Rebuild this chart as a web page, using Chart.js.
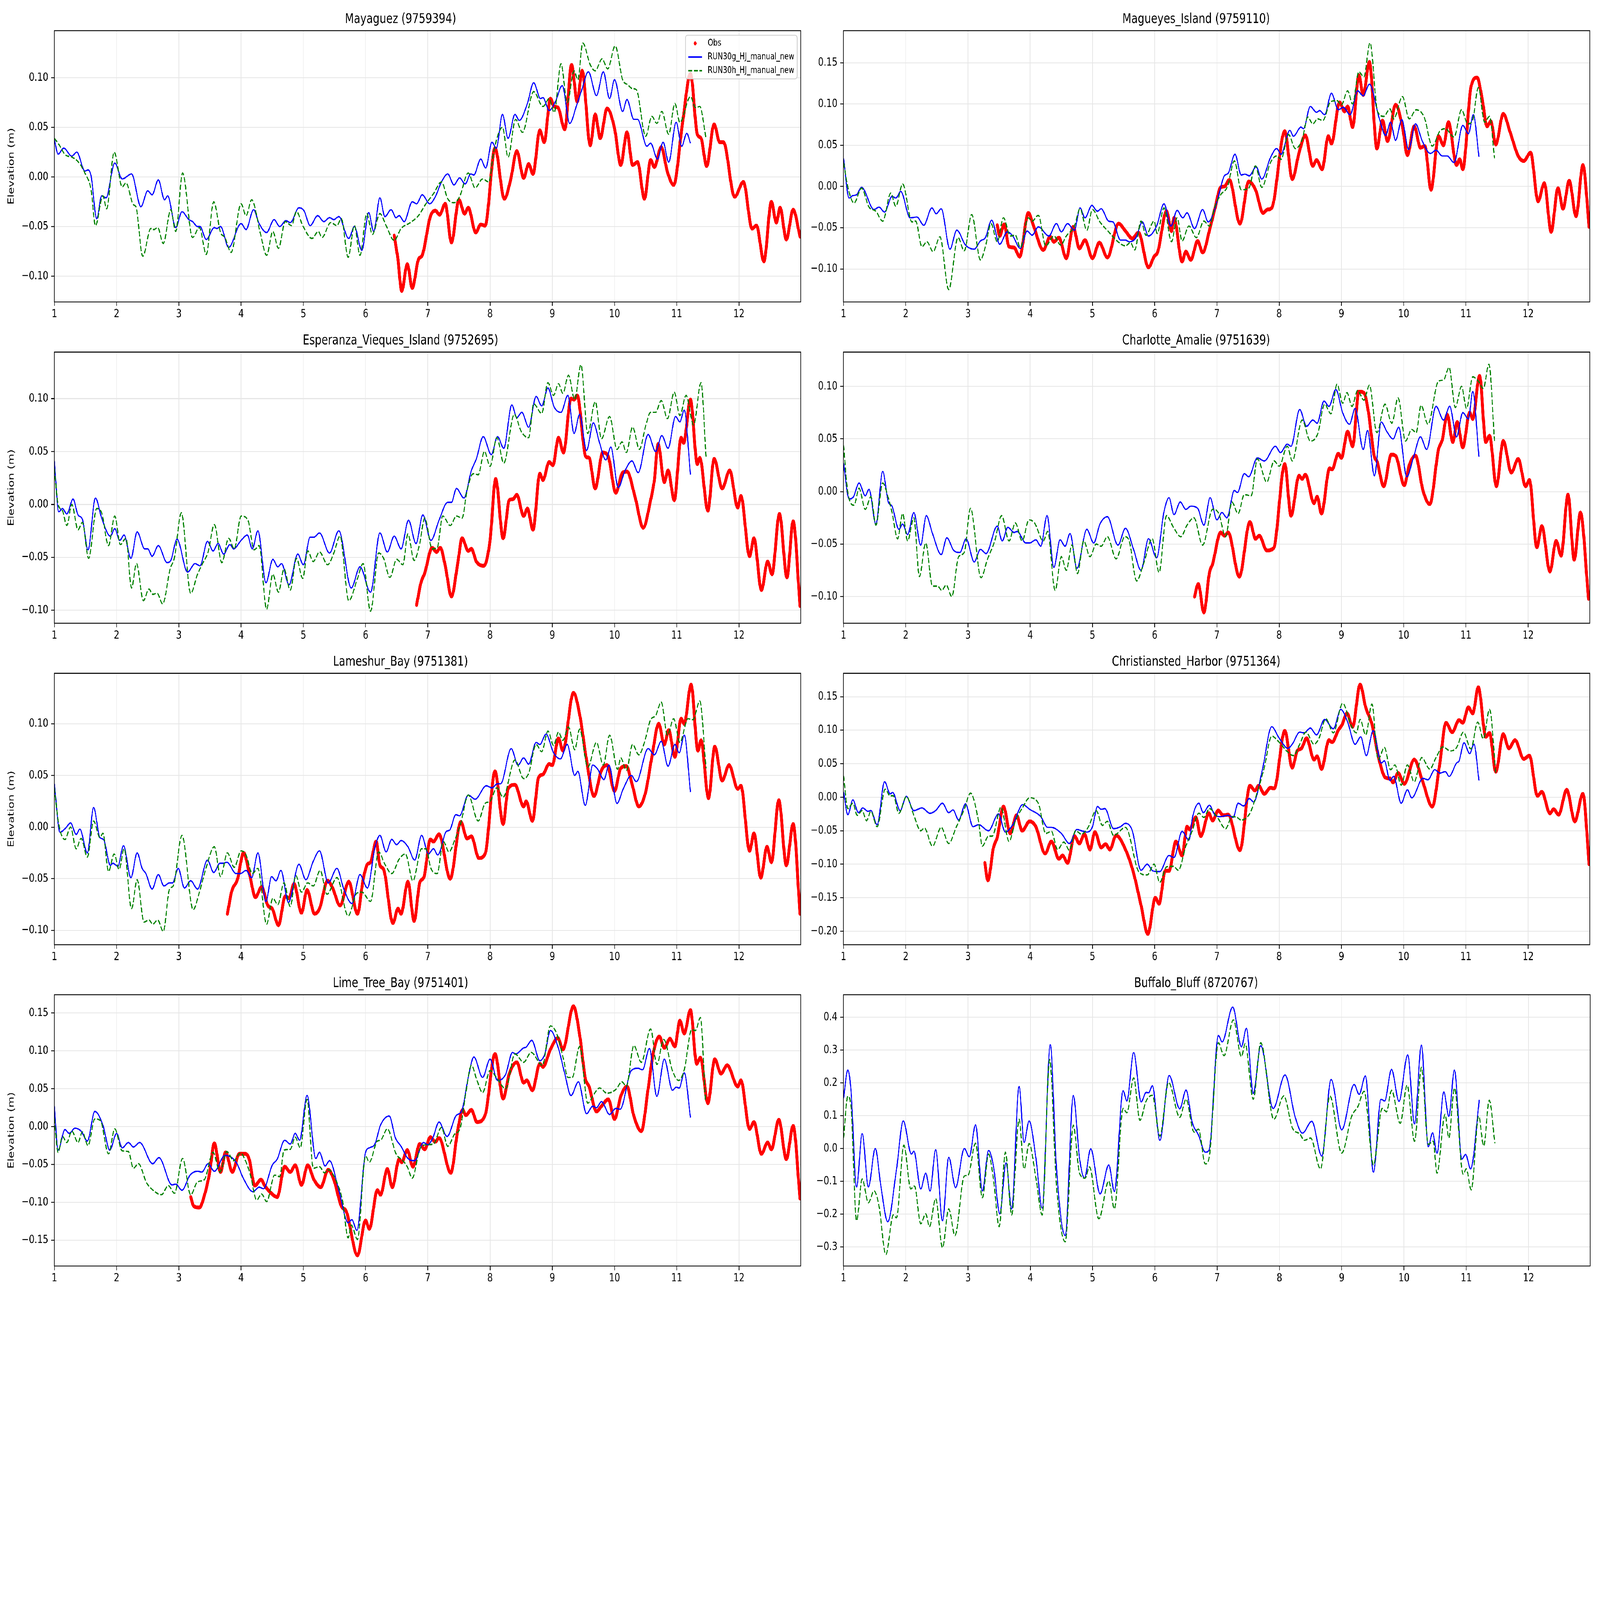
<!DOCTYPE html>
<html>
<head>
<meta charset="utf-8">
<script src="https://cdn.jsdelivr.net/npm/chart.js@4.4.1/dist/chart.umd.min.js"></script>
<style>
html, body { margin: 0; padding: 0; background: #fff; overflow: hidden; }
#figure { position: absolute; left: 0; top: 0; width: 7650px; height: 5850px; transform-origin: 0 0; background: #fff; }
.panel { position: absolute; }
</style>
</head>
<body>
<div id="figure"></div>
<script>
"use strict";

// ---- data: [day, elevation (m)] ----
const mayaguezObs = [[6.46,-0.059],[6.52,-0.083],[6.58,-0.115],[6.67,-0.088],[6.75,-0.112],[6.85,-0.083],[6.91,-0.079],[7.04,-0.040],[7.12,-0.034],[7.19,-0.038],[7.28,-0.027],[7.38,-0.066],[7.50,-0.023],[7.59,-0.037],[7.65,-0.031],[7.77,-0.056],[7.85,-0.048],[7.92,-0.049],[8.08,0.029],[8.23,-0.022],[8.33,-0.003],[8.43,0.026],[8.54,-0.001],[8.62,0.013],[8.69,0.003],[8.80,0.047],[8.87,0.035],[8.97,0.079],[9.03,0.071],[9.09,0.070],[9.20,0.048],[9.31,0.113],[9.40,0.076],[9.48,0.107],[9.61,0.032],[9.69,0.063],[9.77,0.039],[9.88,0.069],[10.00,0.049],[10.10,0.012],[10.20,0.045],[10.29,0.012],[10.37,0.015],[10.48,-0.022],[10.58,0.017],[10.64,0.010],[10.75,0.030],[10.85,0.005],[10.95,-0.008],[11.09,0.053],[11.22,0.104],[11.33,0.043],[11.39,0.039],[11.48,0.011],[11.60,0.053],[11.69,0.035],[11.75,0.035],[11.93,-0.020],[12.07,-0.005],[12.21,-0.052],[12.28,-0.049],[12.40,-0.085],[12.52,-0.025],[12.60,-0.046],[12.66,-0.031],[12.76,-0.063],[12.87,-0.033],[12.98,-0.060]];
const mayaguezG = [[1.00,0.038],[1.06,0.023],[1.15,0.029],[1.28,0.021],[1.36,0.025],[1.49,0.006],[1.54,0.007],[1.59,0.001],[1.68,-0.042],[1.76,-0.019],[1.83,-0.021],[1.97,0.014],[2.09,-0.002],[2.24,0.003],[2.39,-0.030],[2.50,-0.014],[2.57,-0.018],[2.67,-0.003],[2.77,-0.023],[2.82,-0.019],[2.95,-0.051],[3.05,-0.035],[3.16,-0.043],[3.22,-0.045],[3.30,-0.050],[3.34,-0.050],[3.44,-0.063],[3.57,-0.051],[3.61,-0.052],[3.67,-0.050],[3.80,-0.071],[4.00,-0.047],[4.08,-0.053],[4.20,-0.033],[4.29,-0.047],[4.41,-0.056],[4.53,-0.043],[4.62,-0.050],[4.72,-0.044],[4.79,-0.046],[4.93,-0.031],[5.01,-0.034],[5.11,-0.049],[5.23,-0.039],[5.33,-0.045],[5.42,-0.041],[5.49,-0.043],[5.57,-0.040],[5.73,-0.062],[5.82,-0.050],[5.94,-0.074],[6.05,-0.036],[6.13,-0.055],[6.23,-0.021],[6.31,-0.040],[6.41,-0.033],[6.49,-0.041],[6.54,-0.039],[6.62,-0.045],[6.75,-0.025],[6.82,-0.027],[6.91,-0.018],[7.03,-0.027],[7.12,-0.020],[7.22,-0.005],[7.32,0.003],[7.42,-0.008],[7.51,-0.001],[7.60,-0.007],[7.69,0.003],[7.74,0.002],[7.85,0.018],[7.93,0.009],[8.03,0.035],[8.10,0.029],[8.20,0.063],[8.29,0.039],[8.40,0.063],[8.47,0.057],[8.60,0.074],[8.70,0.095],[8.81,0.079],[8.85,0.080],[8.95,0.067],[9.05,0.076],[9.16,0.092],[9.28,0.054],[9.39,0.072],[9.47,0.087],[9.58,0.106],[9.71,0.082],[9.82,0.106],[9.92,0.079],[10.00,0.098],[10.13,0.066],[10.20,0.078],[10.31,0.058],[10.37,0.058],[10.52,0.031],[10.58,0.034],[10.69,0.018],[10.78,0.035],[10.87,0.015],[10.99,0.055],[11.08,0.031],[11.16,0.044],[11.22,0.034]];
const mayaguezH = [[1.00,0.039],[1.07,0.033],[1.18,0.022],[1.28,0.020],[1.40,0.014],[1.49,0.004],[1.59,-0.013],[1.66,-0.049],[1.78,-0.019],[1.84,-0.032],[1.96,0.025],[2.09,-0.010],[2.15,-0.006],[2.27,-0.028],[2.31,-0.030],[2.42,-0.080],[2.55,-0.052],[2.60,-0.053],[2.66,-0.051],[2.75,-0.067],[2.87,-0.033],[2.95,-0.055],[3.06,0.004],[3.22,-0.061],[3.33,-0.051],[3.44,-0.078],[3.56,-0.025],[3.67,-0.056],[3.74,-0.061],[3.84,-0.076],[4.00,-0.027],[4.08,-0.039],[4.17,-0.023],[4.31,-0.057],[4.41,-0.079],[4.51,-0.055],[4.60,-0.072],[4.71,-0.045],[4.81,-0.049],[4.89,-0.035],[4.99,-0.049],[5.14,-0.062],[5.24,-0.055],[5.30,-0.061],[5.44,-0.046],[5.54,-0.049],[5.61,-0.042],[5.72,-0.081],[5.82,-0.049],[5.91,-0.079],[6.02,-0.037],[6.11,-0.058],[6.23,-0.037],[6.33,-0.049],[6.46,-0.064],[6.57,-0.052],[6.72,-0.046],[6.85,-0.039],[6.97,-0.027],[7.09,-0.017],[7.22,-0.005],[7.32,-0.022],[7.42,-0.026],[7.51,-0.020],[7.65,0.004],[7.76,-0.011],[7.88,-0.002],[7.98,-0.005],[8.06,0.026],[8.20,0.050],[8.29,0.020],[8.41,0.058],[8.52,0.045],[8.70,0.086],[8.85,0.071],[8.95,0.079],[9.03,0.065],[9.14,0.114],[9.24,0.075],[9.35,0.107],[9.41,0.098],[9.49,0.135],[9.61,0.113],[9.69,0.107],[9.80,0.119],[9.89,0.109],[10.01,0.132],[10.13,0.098],[10.21,0.093],[10.29,0.089],[10.35,0.088],[10.50,0.041],[10.60,0.061],[10.68,0.054],[10.76,0.066],[10.87,0.043],[10.97,0.074],[11.05,0.055],[11.22,0.081],[11.30,0.070],[11.37,0.071],[11.47,0.039]];

const magueyesObs = [[3.47,-0.047],[3.51,-0.060],[3.58,-0.046],[3.66,-0.073],[3.74,-0.074],[3.83,-0.085],[3.97,-0.032],[4.05,-0.047],[4.21,-0.077],[4.32,-0.061],[4.38,-0.067],[4.46,-0.062],[4.58,-0.087],[4.69,-0.049],[4.79,-0.075],[4.88,-0.065],[5.00,-0.087],[5.11,-0.068],[5.24,-0.086],[5.42,-0.045],[5.53,-0.054],[5.64,-0.063],[5.74,-0.056],[5.90,-0.098],[5.99,-0.085],[6.05,-0.079],[6.19,-0.030],[6.27,-0.054],[6.31,-0.038],[6.44,-0.091],[6.50,-0.079],[6.58,-0.089],[6.69,-0.066],[6.77,-0.080],[6.89,-0.050],[6.97,-0.026],[7.06,-0.001],[7.12,0.000],[7.20,0.008],[7.37,-0.045],[7.51,0.006],[7.62,-0.004],[7.74,-0.032],[7.81,-0.028],[7.88,-0.026],[8.09,0.067],[8.21,0.009],[8.32,0.041],[8.42,0.062],[8.54,0.025],[8.60,0.032],[8.69,0.021],[8.79,0.061],[8.84,0.052],[8.97,0.102],[9.05,0.091],[9.10,0.097],[9.18,0.072],[9.28,0.135],[9.35,0.111],[9.45,0.151],[9.57,0.046],[9.66,0.080],[9.74,0.055],[9.87,0.099],[9.98,0.073],[10.06,0.038],[10.17,0.073],[10.27,0.047],[10.34,0.049],[10.44,-0.004],[10.56,0.061],[10.64,0.050],[10.72,0.078],[10.85,0.026],[10.90,0.033],[10.95,0.021],[11.08,0.120],[11.18,0.132],[11.26,0.107],[11.34,0.073],[11.40,0.079],[11.48,0.051],[11.60,0.088],[11.71,0.066],[11.84,0.037],[11.93,0.031],[12.04,0.041],[12.16,-0.018],[12.26,0.004],[12.37,-0.055],[12.48,-0.002],[12.56,-0.027],[12.66,0.007],[12.77,-0.036],[12.88,0.026],[12.98,-0.049]];
const magueyesG = [[1.00,0.034],[1.09,-0.014],[1.15,-0.011],[1.21,-0.010],[1.29,-0.001],[1.49,-0.028],[1.57,-0.025],[1.66,-0.031],[1.78,-0.012],[1.84,-0.014],[1.92,-0.006],[2.07,-0.038],[2.18,-0.037],[2.29,-0.047],[2.42,-0.026],[2.49,-0.033],[2.57,-0.027],[2.71,-0.076],[2.82,-0.053],[2.96,-0.071],[3.10,-0.076],[3.20,-0.066],[3.28,-0.062],[3.38,-0.041],[3.51,-0.070],[3.63,-0.055],[3.72,-0.060],[3.84,-0.075],[3.95,-0.054],[4.03,-0.059],[4.13,-0.049],[4.30,-0.060],[4.42,-0.045],[4.50,-0.055],[4.60,-0.045],[4.71,-0.053],[4.80,-0.026],[4.88,-0.038],[4.99,-0.023],[5.08,-0.030],[5.14,-0.027],[5.26,-0.042],[5.33,-0.043],[5.45,-0.065],[5.53,-0.065],[5.59,-0.067],[5.70,-0.062],[5.80,-0.043],[5.90,-0.060],[6.03,-0.048],[6.15,-0.021],[6.26,-0.048],[6.36,-0.029],[6.45,-0.038],[6.52,-0.032],[6.64,-0.051],[6.77,-0.028],[6.86,-0.043],[6.95,-0.031],[7.02,-0.013],[7.12,0.013],[7.18,0.016],[7.29,0.039],[7.39,0.014],[7.45,0.015],[7.52,0.013],[7.63,0.024],[7.72,0.009],[7.86,0.035],[7.96,0.046],[8.03,0.039],[8.17,0.068],[8.23,0.061],[8.35,0.072],[8.39,0.070],[8.50,0.097],[8.60,0.090],[8.65,0.092],[8.73,0.087],[8.84,0.113],[8.95,0.093],[9.03,0.096],[9.14,0.087],[9.26,0.116],[9.35,0.110],[9.45,0.124],[9.61,0.082],[9.71,0.062],[9.79,0.078],[9.87,0.056],[9.97,0.081],[10.08,0.045],[10.19,0.076],[10.30,0.055],[10.43,0.040],[10.52,0.044],[10.62,0.037],[10.70,0.037],[10.81,0.029],[10.95,0.074],[11.04,0.064],[11.12,0.087],[11.21,0.036]];
const magueyesH = [[1.00,0.029],[1.08,-0.004],[1.17,-0.020],[1.29,-0.002],[1.41,-0.025],[1.52,-0.030],[1.63,-0.042],[1.76,-0.008],[1.84,-0.024],[1.95,0.003],[2.10,-0.043],[2.16,-0.042],[2.26,-0.073],[2.34,-0.067],[2.44,-0.079],[2.55,-0.061],[2.69,-0.125],[2.84,-0.062],[2.94,-0.078],[3.06,-0.034],[3.20,-0.089],[3.28,-0.073],[3.37,-0.045],[3.47,-0.067],[3.57,-0.038],[3.68,-0.060],[3.76,-0.059],[3.84,-0.074],[3.97,-0.038],[4.03,-0.042],[4.13,-0.035],[4.25,-0.072],[4.38,-0.060],[4.49,-0.071],[4.58,-0.060],[4.71,-0.048],[4.80,-0.027],[4.91,-0.053],[5.00,-0.028],[5.12,-0.043],[5.26,-0.055],[5.41,-0.067],[5.53,-0.072],[5.61,-0.068],[5.68,-0.077],[5.78,-0.042],[5.86,-0.059],[5.99,-0.042],[6.04,-0.057],[6.15,-0.026],[6.27,-0.067],[6.36,-0.038],[6.44,-0.066],[6.55,-0.048],[6.67,-0.062],[6.79,-0.042],[6.88,-0.048],[6.96,-0.026],[7.06,-0.010],[7.17,0.000],[7.28,0.031],[7.39,-0.004],[7.51,-0.002],[7.62,0.025],[7.72,-0.001],[7.86,0.029],[7.96,0.037],[8.03,0.033],[8.15,0.063],[8.26,0.046],[8.37,0.057],[8.46,0.084],[8.54,0.076],[8.62,0.082],[8.70,0.080],[8.83,0.103],[8.93,0.104],[9.00,0.099],[9.10,0.116],[9.18,0.100],[9.28,0.139],[9.36,0.133],[9.46,0.174],[9.58,0.091],[9.68,0.085],[9.78,0.094],[9.84,0.082],[9.98,0.109],[10.09,0.082],[10.20,0.093],[10.33,0.084],[10.46,0.049],[10.58,0.067],[10.67,0.070],[10.81,0.060],[10.93,0.093],[11.03,0.076],[11.11,0.081],[11.20,0.120],[11.30,0.078],[11.38,0.085],[11.46,0.034]];

const esperanzaObs = [[6.82,-0.095],[6.89,-0.074],[6.95,-0.065],[7.07,-0.041],[7.14,-0.045],[7.20,-0.041],[7.28,-0.058],[7.38,-0.087],[7.48,-0.056],[7.55,-0.032],[7.65,-0.044],[7.70,-0.042],[7.78,-0.054],[7.90,-0.058],[8.00,-0.034],[8.09,0.024],[8.21,-0.032],[8.31,0.004],[8.37,0.005],[8.43,0.009],[8.54,-0.011],[8.60,-0.004],[8.69,-0.024],[8.80,0.029],[8.85,0.023],[8.95,0.040],[9.01,0.037],[9.10,0.063],[9.18,0.049],[9.30,0.100],[9.35,0.099],[9.40,0.103],[9.54,0.045],[9.59,0.044],[9.69,0.015],[9.81,0.049],[9.90,0.045],[10.02,0.011],[10.13,0.030],[10.20,0.031],[10.33,0.007],[10.46,-0.022],[10.58,0.004],[10.64,0.023],[10.70,0.057],[10.80,0.021],[10.86,0.032],[10.96,0.004],[11.07,0.063],[11.11,0.058],[11.22,0.099],[11.33,0.038],[11.37,0.044],[11.50,-0.006],[11.60,0.043],[11.73,0.015],[11.85,0.032],[11.98,-0.003],[12.03,0.008],[12.17,-0.049],[12.24,-0.032],[12.36,-0.081],[12.46,-0.054],[12.53,-0.066],[12.65,-0.009],[12.77,-0.069],[12.87,-0.016],[12.98,-0.096]];
const esperanzaG = [[1.00,0.041],[1.07,-0.007],[1.13,-0.004],[1.20,-0.009],[1.30,0.005],[1.38,-0.010],[1.45,-0.014],[1.54,-0.043],[1.66,0.006],[1.76,-0.013],[1.90,-0.030],[1.97,-0.023],[2.05,-0.034],[2.12,-0.029],[2.23,-0.051],[2.33,-0.026],[2.45,-0.042],[2.50,-0.042],[2.57,-0.049],[2.67,-0.039],[2.81,-0.055],[2.87,-0.053],[2.97,-0.033],[3.14,-0.064],[3.26,-0.056],[3.34,-0.058],[3.46,-0.035],[3.55,-0.044],[3.63,-0.037],[3.72,-0.047],[3.82,-0.038],[3.88,-0.042],[4.00,-0.034],[4.10,-0.029],[4.18,-0.042],[4.27,-0.025],[4.40,-0.074],[4.51,-0.052],[4.59,-0.059],[4.65,-0.056],[4.77,-0.076],[4.91,-0.047],[5.00,-0.057],[5.11,-0.031],[5.17,-0.031],[5.26,-0.027],[5.42,-0.046],[5.57,-0.025],[5.77,-0.079],[5.91,-0.059],[6.08,-0.083],[6.23,-0.027],[6.35,-0.045],[6.46,-0.030],[6.57,-0.042],[6.69,-0.015],[6.81,-0.037],[6.92,-0.010],[7.05,-0.034],[7.18,-0.015],[7.32,0.002],[7.38,0.002],[7.46,0.015],[7.58,0.006],[7.70,0.032],[7.78,0.043],[7.89,0.064],[8.02,0.047],[8.12,0.064],[8.22,0.053],[8.35,0.094],[8.43,0.082],[8.51,0.087],[8.62,0.073],[8.74,0.102],[8.83,0.093],[8.93,0.110],[9.03,0.092],[9.14,0.087],[9.25,0.103],[9.35,0.067],[9.44,0.085],[9.55,0.051],[9.66,0.077],[9.76,0.058],[9.86,0.042],[9.94,0.054],[10.06,0.016],[10.17,0.032],[10.28,0.041],[10.38,0.030],[10.54,0.066],[10.66,0.050],[10.76,0.065],[10.86,0.053],[10.98,0.083],[11.05,0.078],[11.12,0.089],[11.22,0.028]];
const esperanzaH = [[1.00,0.034],[1.06,0.000],[1.13,-0.006],[1.20,-0.020],[1.28,0.000],[1.38,-0.024],[1.45,-0.017],[1.55,-0.051],[1.68,-0.004],[1.76,-0.008],[1.87,-0.039],[1.97,-0.011],[2.06,-0.038],[2.15,-0.032],[2.24,-0.079],[2.32,-0.056],[2.43,-0.091],[2.52,-0.080],[2.58,-0.085],[2.65,-0.084],[2.74,-0.094],[2.86,-0.061],[2.93,-0.050],[3.04,-0.008],[3.19,-0.084],[3.30,-0.066],[3.38,-0.056],[3.47,-0.045],[3.57,-0.019],[3.69,-0.055],[3.80,-0.032],[3.89,-0.042],[4.00,-0.011],[4.11,-0.015],[4.21,-0.043],[4.29,-0.039],[4.41,-0.099],[4.51,-0.066],[4.60,-0.083],[4.69,-0.061],[4.79,-0.081],[4.89,-0.051],[4.99,-0.070],[5.07,-0.044],[5.16,-0.054],[5.26,-0.045],[5.39,-0.057],[5.49,-0.046],[5.59,-0.030],[5.73,-0.091],[5.87,-0.070],[5.96,-0.056],[6.08,-0.101],[6.21,-0.046],[6.29,-0.051],[6.39,-0.069],[6.50,-0.052],[6.60,-0.057],[6.68,-0.028],[6.78,-0.053],[6.87,-0.037],[6.95,-0.013],[7.07,-0.042],[7.15,-0.041],[7.24,-0.011],[7.36,-0.020],[7.46,-0.011],[7.55,-0.013],[7.63,0.013],[7.73,0.029],[7.81,0.028],[7.91,0.050],[8.00,0.036],[8.11,0.063],[8.22,0.039],[8.39,0.085],[8.50,0.069],[8.62,0.063],[8.70,0.095],[8.83,0.086],[8.93,0.115],[9.02,0.103],[9.10,0.114],[9.17,0.105],[9.26,0.122],[9.36,0.099],[9.46,0.132],[9.57,0.067],[9.69,0.097],[9.79,0.062],[9.92,0.083],[10.04,0.052],[10.12,0.059],[10.19,0.049],[10.29,0.073],[10.40,0.052],[10.50,0.074],[10.58,0.087],[10.66,0.087],[10.75,0.098],[10.85,0.081],[10.96,0.106],[11.05,0.084],[11.15,0.103],[11.27,0.075],[11.39,0.115],[11.47,0.045]];

const charlotteObs = [[6.64,-0.100],[6.70,-0.088],[6.79,-0.115],[6.88,-0.077],[6.93,-0.069],[7.06,-0.039],[7.12,-0.042],[7.18,-0.039],[7.36,-0.081],[7.53,-0.029],[7.62,-0.045],[7.68,-0.042],[7.80,-0.056],[7.91,-0.054],[8.09,0.026],[8.19,-0.023],[8.32,0.015],[8.37,0.012],[8.42,0.016],[8.56,-0.011],[8.61,-0.005],[8.68,-0.021],[8.81,0.022],[8.85,0.021],[8.95,0.036],[9.00,0.032],[9.10,0.057],[9.18,0.043],[9.28,0.095],[9.36,0.094],[9.43,0.077],[9.53,0.033],[9.57,0.029],[9.68,0.005],[9.80,0.035],[9.87,0.034],[10.01,0.006],[10.09,0.025],[10.19,0.034],[10.31,0.001],[10.42,-0.012],[10.56,0.040],[10.62,0.049],[10.70,0.073],[10.79,0.047],[10.86,0.066],[10.95,0.042],[11.06,0.075],[11.11,0.069],[11.22,0.110],[11.32,0.047],[11.38,0.053],[11.49,0.005],[11.60,0.048],[11.73,0.018],[11.84,0.031],[11.96,0.005],[12.02,0.011],[12.14,-0.053],[12.22,-0.033],[12.35,-0.076],[12.45,-0.047],[12.53,-0.061],[12.64,-0.003],[12.74,-0.065],[12.84,-0.020],[12.97,-0.102]];
const charlotteG = [[1.00,0.027],[1.09,-0.007],[1.16,-0.005],[1.25,0.008],[1.35,-0.004],[1.41,0.002],[1.52,-0.031],[1.63,0.019],[1.72,-0.010],[1.78,-0.014],[1.89,-0.036],[1.95,-0.031],[2.03,-0.041],[2.13,-0.020],[2.24,-0.051],[2.33,-0.023],[2.43,-0.040],[2.57,-0.060],[2.66,-0.044],[2.77,-0.056],[2.87,-0.058],[2.97,-0.045],[3.10,-0.067],[3.20,-0.055],[3.29,-0.059],[3.47,-0.033],[3.55,-0.047],[3.64,-0.034],[3.74,-0.039],[3.79,-0.038],[3.93,-0.049],[3.99,-0.049],[4.09,-0.046],[4.17,-0.052],[4.27,-0.023],[4.38,-0.072],[4.48,-0.046],[4.56,-0.052],[4.64,-0.040],[4.75,-0.073],[4.91,-0.036],[5.02,-0.049],[5.12,-0.031],[5.24,-0.024],[5.41,-0.051],[5.53,-0.035],[5.66,-0.055],[5.78,-0.075],[5.90,-0.045],[6.03,-0.063],[6.15,-0.019],[6.23,-0.006],[6.31,-0.022],[6.41,-0.010],[6.50,-0.017],[6.58,-0.014],[6.69,-0.016],[6.79,-0.032],[6.89,-0.006],[7.00,-0.027],[7.08,-0.020],[7.16,-0.025],[7.28,0.001],[7.33,-0.001],[7.44,0.017],[7.51,0.014],[7.65,0.032],[7.76,0.029],[7.94,0.043],[8.02,0.037],[8.13,0.045],[8.19,0.043],[8.33,0.078],[8.44,0.062],[8.54,0.068],[8.61,0.065],[8.72,0.086],[8.80,0.081],[8.91,0.097],[9.02,0.075],[9.13,0.064],[9.22,0.079],[9.35,0.040],[9.42,0.058],[9.53,0.015],[9.64,0.066],[9.73,0.057],[9.83,0.050],[9.92,0.061],[10.05,0.014],[10.16,0.033],[10.27,0.052],[10.37,0.040],[10.52,0.081],[10.64,0.068],[10.74,0.081],[10.85,0.052],[10.95,0.075],[11.04,0.069],[11.11,0.095],[11.21,0.033]];
const charlotteH = [[1.00,0.044],[1.07,-0.001],[1.17,-0.013],[1.25,0.003],[1.35,-0.017],[1.44,-0.005],[1.52,-0.032],[1.63,0.008],[1.72,-0.006],[1.78,-0.020],[1.87,-0.045],[1.95,-0.021],[2.03,-0.047],[2.13,-0.025],[2.22,-0.081],[2.32,-0.049],[2.43,-0.090],[2.51,-0.090],[2.58,-0.094],[2.65,-0.089],[2.74,-0.100],[2.85,-0.062],[2.94,-0.058],[3.04,-0.016],[3.21,-0.082],[3.31,-0.065],[3.43,-0.047],[3.54,-0.023],[3.66,-0.047],[3.76,-0.030],[3.87,-0.047],[3.98,-0.027],[4.07,-0.030],[4.21,-0.047],[4.28,-0.038],[4.40,-0.094],[4.50,-0.062],[4.58,-0.075],[4.67,-0.051],[4.76,-0.078],[4.86,-0.047],[4.96,-0.062],[5.06,-0.050],[5.14,-0.052],[5.24,-0.043],[5.38,-0.064],[5.52,-0.043],[5.59,-0.047],[5.71,-0.085],[5.82,-0.069],[5.96,-0.045],[6.07,-0.077],[6.19,-0.023],[6.30,-0.034],[6.42,-0.043],[6.52,-0.032],[6.63,-0.025],[6.77,-0.051],[6.93,-0.017],[7.03,-0.021],[7.14,-0.043],[7.24,-0.010],[7.34,-0.021],[7.44,-0.003],[7.55,-0.004],[7.65,0.031],[7.80,0.009],[7.92,0.029],[8.00,0.024],[8.13,0.043],[8.21,0.029],[8.37,0.068],[8.50,0.048],[8.62,0.055],[8.73,0.083],[8.83,0.074],[8.93,0.102],[9.02,0.084],[9.09,0.094],[9.17,0.081],[9.26,0.096],[9.36,0.087],[9.45,0.101],[9.57,0.056],[9.70,0.083],[9.81,0.065],[9.91,0.089],[10.03,0.048],[10.13,0.059],[10.20,0.056],[10.28,0.082],[10.39,0.064],[10.56,0.105],[10.64,0.106],[10.73,0.118],[10.83,0.080],[10.93,0.100],[11.01,0.079],[11.11,0.109],[11.20,0.105],[11.28,0.098],[11.37,0.121],[11.46,0.048]];

const lameshurObs = [[3.78,-0.084],[3.85,-0.062],[3.94,-0.051],[4.04,-0.025],[4.14,-0.047],[4.23,-0.068],[4.33,-0.058],[4.43,-0.076],[4.50,-0.079],[4.60,-0.095],[4.71,-0.067],[4.77,-0.069],[4.85,-0.055],[4.97,-0.083],[5.06,-0.061],[5.18,-0.084],[5.26,-0.079],[5.39,-0.052],[5.47,-0.059],[5.59,-0.076],[5.73,-0.053],[5.87,-0.084],[5.96,-0.051],[6.03,-0.036],[6.08,-0.034],[6.17,-0.014],[6.23,-0.037],[6.29,-0.041],[6.44,-0.093],[6.52,-0.079],[6.57,-0.084],[6.68,-0.053],[6.78,-0.091],[6.87,-0.054],[6.94,-0.048],[7.04,-0.012],[7.09,-0.014],[7.18,-0.007],[7.36,-0.050],[7.53,0.005],[7.63,-0.011],[7.70,-0.009],[7.82,-0.030],[7.92,-0.026],[8.08,0.054],[8.21,0.003],[8.29,0.037],[8.40,0.041],[8.54,0.020],[8.58,0.025],[8.68,0.006],[8.78,0.048],[8.85,0.051],[8.95,0.061],[9.00,0.060],[9.10,0.086],[9.17,0.074],[9.34,0.130],[9.44,0.109],[9.55,0.065],[9.67,0.030],[9.79,0.055],[9.88,0.060],[10.00,0.035],[10.10,0.057],[10.19,0.059],[10.28,0.042],[10.39,0.020],[10.50,0.034],[10.60,0.068],[10.71,0.100],[10.80,0.080],[10.87,0.094],[10.97,0.068],[11.07,0.105],[11.12,0.100],[11.23,0.138],[11.34,0.074],[11.39,0.084],[11.51,0.028],[11.61,0.078],[11.73,0.045],[11.84,0.060],[11.98,0.037],[12.03,0.040],[12.17,-0.023],[12.24,-0.006],[12.35,-0.049],[12.45,-0.019],[12.52,-0.034],[12.64,0.026],[12.76,-0.037],[12.87,0.003],[12.98,-0.084]];
const lameshurG = [[1.00,0.042],[1.09,-0.005],[1.18,-0.001],[1.26,0.004],[1.35,-0.007],[1.41,-0.002],[1.53,-0.025],[1.63,0.019],[1.73,-0.010],[1.79,-0.012],[1.90,-0.037],[1.94,-0.035],[2.02,-0.038],[2.11,-0.018],[2.23,-0.049],[2.33,-0.025],[2.41,-0.040],[2.47,-0.045],[2.57,-0.060],[2.67,-0.046],[2.76,-0.057],[2.85,-0.054],[2.90,-0.054],[2.99,-0.040],[3.09,-0.059],[3.19,-0.052],[3.30,-0.060],[3.46,-0.032],[3.56,-0.044],[3.66,-0.035],[3.71,-0.035],[3.77,-0.034],[3.92,-0.045],[3.99,-0.045],[4.08,-0.042],[4.17,-0.049],[4.27,-0.025],[4.40,-0.072],[4.49,-0.048],[4.56,-0.052],[4.64,-0.042],[4.76,-0.073],[4.93,-0.036],[5.04,-0.051],[5.16,-0.033],[5.26,-0.023],[5.40,-0.054],[5.54,-0.040],[5.65,-0.060],[5.78,-0.074],[5.91,-0.046],[6.03,-0.059],[6.15,-0.020],[6.23,-0.008],[6.33,-0.024],[6.42,-0.012],[6.50,-0.017],[6.57,-0.013],[6.68,-0.019],[6.79,-0.032],[6.90,-0.008],[7.01,-0.026],[7.09,-0.021],[7.16,-0.027],[7.30,-0.004],[7.35,-0.003],[7.45,0.012],[7.51,0.011],[7.65,0.031],[7.76,0.027],[7.94,0.040],[8.03,0.038],[8.12,0.042],[8.17,0.042],[8.34,0.076],[8.45,0.060],[8.54,0.067],[8.62,0.061],[8.74,0.082],[8.80,0.080],[8.90,0.090],[9.02,0.072],[9.13,0.066],[9.24,0.080],[9.36,0.050],[9.41,0.054],[9.53,0.021],[9.65,0.060],[9.73,0.056],[9.83,0.046],[9.91,0.060],[10.04,0.023],[10.14,0.037],[10.27,0.050],[10.35,0.044],[10.54,0.076],[10.64,0.070],[10.75,0.083],[10.86,0.059],[10.97,0.080],[11.04,0.072],[11.12,0.089],[11.22,0.034]];
const lameshurH = [[1.00,0.038],[1.07,0.003],[1.17,-0.012],[1.26,0.000],[1.35,-0.021],[1.43,-0.011],[1.53,-0.029],[1.63,0.006],[1.73,-0.010],[1.78,-0.006],[1.87,-0.043],[1.96,-0.026],[2.04,-0.041],[2.12,-0.021],[2.24,-0.079],[2.33,-0.051],[2.44,-0.092],[2.52,-0.090],[2.58,-0.094],[2.66,-0.090],[2.75,-0.101],[2.85,-0.060],[2.91,-0.057],[3.05,-0.008],[3.23,-0.080],[3.33,-0.063],[3.44,-0.039],[3.57,-0.019],[3.67,-0.048],[3.78,-0.025],[3.89,-0.039],[4.00,-0.023],[4.08,-0.027],[4.18,-0.045],[4.27,-0.040],[4.41,-0.094],[4.51,-0.069],[4.59,-0.075],[4.69,-0.054],[4.79,-0.077],[4.88,-0.047],[4.97,-0.063],[5.07,-0.054],[5.16,-0.057],[5.27,-0.042],[5.38,-0.065],[5.54,-0.049],[5.72,-0.086],[5.86,-0.064],[5.94,-0.063],[6.08,-0.072],[6.21,-0.024],[6.31,-0.036],[6.42,-0.045],[6.54,-0.031],[6.64,-0.026],[6.76,-0.052],[6.90,-0.021],[6.97,-0.021],[7.05,-0.040],[7.15,-0.045],[7.25,-0.014],[7.34,-0.024],[7.43,-0.013],[7.53,0.004],[7.65,0.031],[7.81,0.006],[7.92,0.023],[8.00,0.025],[8.11,0.038],[8.21,0.029],[8.40,0.065],[8.54,0.047],[8.62,0.052],[8.74,0.080],[8.83,0.073],[8.93,0.093],[9.02,0.079],[9.10,0.092],[9.17,0.084],[9.26,0.097],[9.36,0.075],[9.44,0.095],[9.57,0.058],[9.71,0.082],[9.82,0.060],[9.92,0.089],[10.05,0.056],[10.10,0.067],[10.19,0.055],[10.29,0.080],[10.39,0.070],[10.48,0.082],[10.58,0.104],[10.66,0.108],[10.75,0.121],[10.85,0.089],[10.95,0.105],[11.05,0.082],[11.18,0.105],[11.26,0.104],[11.37,0.122],[11.47,0.057]];

const christianstedObs = [[3.27,-0.098],[3.32,-0.124],[3.41,-0.075],[3.47,-0.060],[3.57,-0.014],[3.68,-0.054],[3.78,-0.027],[3.87,-0.050],[3.99,-0.036],[4.09,-0.044],[4.24,-0.084],[4.34,-0.066],[4.46,-0.092],[4.52,-0.087],[4.60,-0.098],[4.71,-0.058],[4.79,-0.069],[4.87,-0.055],[4.96,-0.078],[5.04,-0.052],[5.14,-0.075],[5.21,-0.070],[5.28,-0.078],[5.38,-0.057],[5.53,-0.078],[5.66,-0.113],[5.78,-0.161],[5.89,-0.204],[6.01,-0.150],[6.07,-0.159],[6.17,-0.110],[6.23,-0.110],[6.34,-0.066],[6.44,-0.087],[6.52,-0.044],[6.56,-0.048],[6.66,-0.030],[6.74,-0.058],[6.87,-0.024],[6.93,-0.035],[7.02,-0.020],[7.10,-0.027],[7.18,-0.026],[7.37,-0.079],[7.53,0.017],[7.61,0.010],[7.67,0.017],[7.76,0.005],[7.86,0.014],[7.92,0.013],[8.09,0.099],[8.21,0.044],[8.29,0.069],[8.36,0.073],[8.44,0.088],[8.56,0.056],[8.61,0.061],[8.68,0.042],[8.80,0.085],[8.85,0.082],[8.95,0.100],[9.01,0.108],[9.09,0.125],[9.18,0.105],[9.30,0.168],[9.39,0.134],[9.49,0.109],[9.61,0.054],[9.71,0.029],[9.78,0.028],[9.83,0.022],[9.91,0.036],[10.01,0.020],[10.17,0.056],[10.30,0.025],[10.46,-0.014],[10.58,0.050],[10.68,0.111],[10.78,0.097],[10.89,0.115],[10.95,0.111],[11.04,0.134],[11.11,0.125],[11.20,0.164],[11.32,0.090],[11.38,0.096],[11.48,0.038],[11.60,0.094],[11.69,0.073],[11.79,0.085],[11.93,0.057],[12.02,0.062],[12.15,0.002],[12.22,0.008],[12.35,-0.024],[12.41,-0.018],[12.49,-0.026],[12.62,0.011],[12.75,-0.036],[12.88,0.005],[12.98,-0.100]];
const christianstedG = [[1.00,0.008],[1.07,-0.026],[1.15,-0.004],[1.24,-0.023],[1.31,-0.016],[1.39,-0.021],[1.44,-0.020],[1.54,-0.041],[1.66,0.023],[1.75,0.005],[1.79,0.007],[1.91,-0.020],[2.01,0.001],[2.13,-0.020],[2.26,-0.016],[2.39,-0.024],[2.48,-0.020],[2.59,-0.009],[2.69,-0.023],[2.76,-0.019],[2.85,-0.034],[2.96,-0.010],[3.08,-0.044],[3.17,-0.041],[3.33,-0.050],[3.49,-0.025],[3.60,-0.052],[3.72,-0.041],[3.88,-0.011],[3.99,-0.018],[4.17,-0.029],[4.28,-0.045],[4.34,-0.045],[4.50,-0.054],[4.63,-0.069],[4.75,-0.048],[4.82,-0.050],[4.91,-0.052],[5.00,-0.044],[5.08,-0.014],[5.14,-0.018],[5.20,-0.017],[5.34,-0.047],[5.45,-0.044],[5.53,-0.039],[5.64,-0.050],[5.78,-0.109],[5.88,-0.100],[5.97,-0.110],[6.08,-0.111],[6.23,-0.087],[6.31,-0.090],[6.44,-0.051],[6.55,-0.064],[6.61,-0.029],[6.71,-0.009],[6.78,-0.023],[6.88,-0.012],[6.97,-0.027],[7.06,-0.029],[7.18,-0.027],[7.26,-0.030],[7.34,-0.009],[7.43,-0.013],[7.52,-0.002],[7.59,-0.007],[7.73,0.041],[7.88,0.105],[8.00,0.088],[8.14,0.073],[8.21,0.079],[8.33,0.097],[8.40,0.096],[8.50,0.103],[8.60,0.093],[8.73,0.116],[8.87,0.102],[8.99,0.131],[9.10,0.112],[9.22,0.079],[9.31,0.090],[9.40,0.062],[9.51,0.099],[9.64,0.051],[9.69,0.054],[9.78,0.025],[9.84,0.031],[9.96,-0.009],[10.06,0.011],[10.13,-0.001],[10.31,0.028],[10.39,0.026],[10.50,0.041],[10.58,0.036],[10.67,0.038],[10.73,0.031],[10.85,0.051],[10.89,0.054],[10.97,0.081],[11.06,0.065],[11.13,0.079],[11.21,0.025]];
const christianstedH = [[1.00,0.032],[1.07,-0.017],[1.15,-0.009],[1.22,-0.027],[1.30,-0.020],[1.37,-0.035],[1.44,-0.021],[1.54,-0.044],[1.67,0.012],[1.75,0.002],[1.80,0.002],[1.89,-0.024],[2.01,0.001],[2.13,-0.027],[2.24,-0.050],[2.30,-0.046],[2.43,-0.073],[2.57,-0.045],[2.69,-0.069],[2.81,-0.045],[2.94,-0.018],[3.04,0.006],[3.17,-0.036],[3.23,-0.073],[3.33,-0.058],[3.39,-0.058],[3.53,-0.015],[3.66,-0.066],[3.76,-0.036],[3.88,-0.015],[3.99,-0.001],[4.13,-0.009],[4.25,-0.054],[4.34,-0.051],[4.44,-0.078],[4.54,-0.067],[4.63,-0.079],[4.73,-0.050],[4.82,-0.055],[4.93,-0.045],[5.06,-0.020],[5.16,-0.042],[5.24,-0.036],[5.34,-0.057],[5.53,-0.045],[5.75,-0.112],[5.88,-0.116],[5.99,-0.100],[6.08,-0.127],[6.19,-0.104],[6.30,-0.103],[6.38,-0.109],[6.50,-0.073],[6.60,-0.051],[6.71,-0.024],[6.79,-0.030],[6.88,-0.017],[7.00,-0.029],[7.14,-0.047],[7.24,-0.029],[7.32,-0.030],[7.39,-0.034],[7.53,-0.024],[7.63,0.002],[7.76,0.044],[7.88,0.091],[8.00,0.082],[8.13,0.068],[8.23,0.062],[8.33,0.079],[8.43,0.097],[8.56,0.079],[8.64,0.088],[8.75,0.117],[8.87,0.096],[9.02,0.140],[9.16,0.106],[9.24,0.096],[9.30,0.116],[9.39,0.093],[9.49,0.139],[9.59,0.056],[9.69,0.074],[9.79,0.041],[9.86,0.048],[9.96,0.018],[10.06,0.048],[10.17,0.023],[10.29,0.059],[10.42,0.042],[10.52,0.059],[10.63,0.075],[10.75,0.069],[10.85,0.074],[10.96,0.097],[11.08,0.072],[11.19,0.112],[11.28,0.087],[11.38,0.131],[11.48,0.036]];

const limeTreeObs = [[3.19,-0.093],[3.24,-0.105],[3.33,-0.107],[3.41,-0.091],[3.49,-0.063],[3.57,-0.022],[3.67,-0.060],[3.75,-0.034],[3.86,-0.060],[3.97,-0.036],[4.07,-0.036],[4.13,-0.043],[4.22,-0.078],[4.32,-0.070],[4.38,-0.078],[4.46,-0.086],[4.58,-0.093],[4.70,-0.053],[4.79,-0.060],[4.87,-0.051],[4.97,-0.077],[5.07,-0.051],[5.17,-0.070],[5.28,-0.080],[5.40,-0.057],[5.49,-0.070],[5.61,-0.105],[5.69,-0.112],[5.87,-0.170],[6.00,-0.124],[6.06,-0.135],[6.19,-0.084],[6.24,-0.090],[6.35,-0.056],[6.43,-0.080],[6.54,-0.043],[6.58,-0.047],[6.67,-0.031],[6.76,-0.053],[6.87,-0.023],[6.95,-0.030],[7.04,-0.014],[7.12,-0.020],[7.18,-0.015],[7.37,-0.061],[7.48,-0.005],[7.56,0.022],[7.61,0.015],[7.70,0.022],[7.79,0.006],[7.92,0.015],[8.08,0.096],[8.21,0.037],[8.31,0.070],[8.43,0.085],[8.54,0.058],[8.59,0.061],[8.68,0.048],[8.80,0.083],[8.85,0.079],[8.97,0.102],[9.09,0.117],[9.17,0.102],[9.34,0.159],[9.44,0.121],[9.53,0.064],[9.59,0.053],[9.71,0.020],[9.79,0.027],[9.90,0.036],[10.00,0.010],[10.10,0.040],[10.20,0.053],[10.31,0.014],[10.43,-0.006],[10.54,0.050],[10.62,0.096],[10.72,0.119],[10.80,0.104],[10.89,0.116],[10.97,0.106],[11.05,0.140],[11.12,0.123],[11.22,0.154],[11.32,0.083],[11.38,0.091],[11.50,0.031],[11.61,0.089],[11.71,0.070],[11.81,0.081],[11.98,0.053],[12.03,0.061],[12.17,-0.003],[12.24,0.006],[12.36,-0.036],[12.46,-0.021],[12.52,-0.030],[12.64,0.009],[12.76,-0.043],[12.87,0.001],[12.98,-0.095]];
const limeTreeG = [[1.00,0.027],[1.06,-0.031],[1.17,-0.004],[1.24,-0.009],[1.33,-0.002],[1.43,-0.006],[1.53,-0.019],[1.65,0.020],[1.78,0.002],[1.89,-0.031],[2.00,-0.009],[2.09,-0.028],[2.19,-0.021],[2.27,-0.027],[2.37,-0.021],[2.58,-0.049],[2.68,-0.041],[2.89,-0.077],[2.95,-0.076],[3.05,-0.084],[3.18,-0.064],[3.30,-0.059],[3.37,-0.060],[3.47,-0.049],[3.57,-0.059],[3.74,-0.038],[3.92,-0.047],[4.04,-0.069],[4.19,-0.086],[4.29,-0.080],[4.36,-0.082],[4.50,-0.051],[4.58,-0.043],[4.70,-0.018],[4.79,-0.023],[4.87,-0.009],[4.94,-0.018],[5.06,0.041],[5.20,-0.042],[5.26,-0.034],[5.35,-0.052],[5.42,-0.045],[5.57,-0.084],[5.72,-0.127],[5.78,-0.123],[5.86,-0.137],[6.00,-0.034],[6.06,-0.028],[6.15,-0.023],[6.24,0.002],[6.38,0.014],[6.48,-0.015],[6.57,-0.026],[6.68,-0.042],[6.79,-0.045],[6.93,-0.021],[7.00,-0.024],[7.08,-0.015],[7.18,0.006],[7.31,-0.013],[7.45,0.014],[7.55,0.022],[7.65,0.065],[7.74,0.092],[7.88,0.065],[8.00,0.089],[8.12,0.061],[8.25,0.069],[8.36,0.098],[8.41,0.096],[8.54,0.104],[8.58,0.105],[8.67,0.114],[8.80,0.087],[8.88,0.096],[8.97,0.127],[9.10,0.103],[9.20,0.070],[9.30,0.041],[9.42,0.059],[9.55,0.017],[9.65,0.027],[9.71,0.025],[9.79,0.033],[9.92,0.016],[10.02,0.024],[10.09,0.023],[10.27,0.074],[10.38,0.077],[10.45,0.075],[10.56,0.103],[10.68,0.040],[10.80,0.089],[10.93,0.048],[10.99,0.052],[11.04,0.051],[11.12,0.071],[11.22,0.012]];
const limeTreeH = [[1.00,0.011],[1.06,-0.034],[1.13,-0.013],[1.20,-0.021],[1.28,-0.006],[1.38,-0.021],[1.45,-0.007],[1.54,-0.025],[1.65,0.010],[1.74,0.008],[1.87,-0.036],[1.97,-0.003],[2.09,-0.032],[2.19,-0.033],[2.27,-0.055],[2.35,-0.049],[2.48,-0.074],[2.60,-0.085],[2.72,-0.090],[2.83,-0.078],[2.93,-0.088],[3.06,-0.042],[3.19,-0.090],[3.30,-0.073],[3.41,-0.070],[3.55,-0.034],[3.66,-0.060],[3.77,-0.033],[3.88,-0.045],[3.99,-0.035],[4.08,-0.047],[4.15,-0.064],[4.25,-0.097],[4.33,-0.089],[4.41,-0.099],[4.54,-0.064],[4.62,-0.066],[4.69,-0.031],[4.79,-0.030],[4.87,-0.014],[4.95,-0.028],[5.06,0.036],[5.16,-0.055],[5.26,-0.053],[5.34,-0.061],[5.40,-0.057],[5.55,-0.076],[5.63,-0.098],[5.72,-0.147],[5.77,-0.130],[5.87,-0.149],[6.00,-0.039],[6.06,-0.047],[6.19,-0.019],[6.24,-0.018],[6.35,-0.003],[6.49,-0.036],[6.60,-0.045],[6.67,-0.053],[6.75,-0.068],[6.87,-0.030],[6.97,-0.024],[7.09,-0.023],[7.22,-0.001],[7.32,-0.026],[7.43,-0.010],[7.52,-0.002],[7.61,0.044],[7.70,0.081],[7.79,0.061],[7.88,0.045],[8.00,0.074],[8.11,0.064],[8.25,0.050],[8.40,0.096],[8.54,0.085],[8.66,0.098],[8.84,0.081],[8.97,0.133],[9.07,0.123],[9.18,0.089],[9.25,0.065],[9.32,0.065],[9.44,0.106],[9.57,0.031],[9.67,0.043],[9.76,0.051],[9.88,0.044],[10.02,0.049],[10.12,0.059],[10.19,0.053],[10.31,0.107],[10.43,0.085],[10.58,0.129],[10.68,0.082],[10.79,0.115],[10.93,0.074],[11.03,0.061],[11.12,0.075],[11.24,0.128],[11.30,0.127],[11.38,0.144],[11.46,0.035]];

const buffaloObs = [];
const buffaloG = [[1.00,0.153],[1.07,0.239],[1.12,0.177],[1.21,-0.117],[1.30,0.045],[1.40,-0.117],[1.51,0.000],[1.60,-0.114],[1.71,-0.223],[1.85,-0.065],[1.96,0.084],[2.09,-0.017],[2.13,-0.008],[2.24,-0.123],[2.32,-0.075],[2.39,-0.129],[2.48,-0.004],[2.59,-0.220],[2.69,-0.027],[2.80,-0.119],[2.94,0.000],[3.02,-0.025],[3.12,0.072],[3.23,-0.129],[3.33,-0.006],[3.41,-0.056],[3.51,-0.199],[3.61,-0.044],[3.70,-0.184],[3.82,0.189],[3.90,0.019],[3.98,0.084],[4.09,-0.029],[4.19,-0.181],[4.32,0.316],[4.42,-0.059],[4.56,-0.265],[4.69,0.161],[4.79,-0.029],[4.87,-0.090],[4.97,-0.001],[5.12,-0.138],[5.26,-0.050],[5.35,-0.131],[5.49,0.176],[5.55,0.145],[5.66,0.292],[5.78,0.142],[5.86,0.171],[5.90,0.170],[5.96,0.191],[6.08,0.025],[6.23,0.222],[6.40,0.121],[6.50,0.178],[6.60,0.080],[6.70,0.041],[6.81,-0.011],[6.87,-0.005],[7.02,0.344],[7.08,0.325],[7.25,0.431],[7.39,0.310],[7.47,0.366],[7.58,0.168],[7.70,0.313],[7.90,0.122],[8.09,0.224],[8.25,0.098],[8.37,0.047],[8.52,0.083],[8.68,-0.023],[8.83,0.210],[9.00,0.057],[9.20,0.195],[9.28,0.165],[9.38,0.221],[9.51,-0.072],[9.63,0.150],[9.69,0.145],[9.80,0.241],[9.92,0.144],[10.06,0.285],[10.17,0.075],[10.28,0.315],[10.39,0.006],[10.46,0.048],[10.53,-0.014],[10.64,0.172],[10.72,0.098],[10.81,0.239],[10.93,-0.032],[10.99,-0.018],[11.07,-0.062],[11.21,0.148]];
const buffaloH = [[1.00,0.032],[1.07,0.159],[1.12,0.128],[1.21,-0.220],[1.30,-0.093],[1.40,-0.165],[1.49,-0.129],[1.57,-0.175],[1.68,-0.323],[1.80,-0.202],[1.85,-0.211],[1.97,0.010],[2.08,-0.123],[2.14,-0.114],[2.24,-0.229],[2.32,-0.199],[2.38,-0.238],[2.48,-0.153],[2.59,-0.302],[2.69,-0.184],[2.79,-0.265],[2.94,-0.084],[3.00,-0.081],[3.12,0.016],[3.23,-0.150],[3.33,-0.017],[3.41,-0.096],[3.50,-0.238],[3.60,-0.011],[3.70,-0.202],[3.82,0.089],[3.90,-0.062],[3.98,0.015],[4.09,-0.090],[4.19,-0.202],[4.31,0.271],[4.42,-0.114],[4.56,-0.284],[4.69,0.071],[4.79,-0.075],[4.88,-0.090],[4.95,-0.056],[5.10,-0.214],[5.26,-0.099],[5.35,-0.184],[5.49,0.122],[5.55,0.109],[5.66,0.215],[5.76,0.086],[5.86,0.145],[5.96,0.162],[6.08,0.038],[6.22,0.201],[6.40,0.095],[6.50,0.150],[6.63,0.050],[6.70,0.059],[6.81,-0.047],[6.87,-0.029],[7.02,0.322],[7.11,0.283],[7.26,0.392],[7.39,0.280],[7.45,0.319],[7.58,0.150],[7.70,0.322],[7.91,0.089],[8.07,0.160],[8.21,0.062],[8.33,0.044],[8.40,0.025],[8.50,0.032],[8.66,-0.062],[8.81,0.160],[9.00,-0.014],[9.16,0.098],[9.26,0.128],[9.36,0.174],[9.51,-0.050],[9.65,0.122],[9.72,0.112],[9.80,0.177],[9.94,0.077],[10.05,0.193],[10.17,0.022],[10.28,0.247],[10.39,0.013],[10.47,0.022],[10.53,-0.075],[10.66,0.104],[10.72,0.032],[10.81,0.184],[10.95,-0.078],[11.00,-0.062],[11.08,-0.126],[11.20,0.099],[11.28,0.008],[11.37,0.147],[11.46,0.016]];

const stationTitles = ['Mayaguez (9759394)', 'Magueyes_Island (9759110)', 'Esperanza_Vieques_Island (9752695)', 'Charlotte_Amalie (9751639)', 'Lameshur_Bay (9751381)', 'Christiansted_Harbor (9751364)', 'Lime_Tree_Bay (9751401)', 'Buffalo_Bluff (8720767)'];
const obsSeries = [mayaguezObs, magueyesObs, esperanzaObs, charlotteObs, lameshurObs, christianstedObs, limeTreeObs, buffaloObs];
const runGSeries = [mayaguezG, magueyesG, esperanzaG, charlotteG, lameshurG, christianstedG, limeTreeG, buffaloG];
const runHSeries = [mayaguezH, magueyesH, esperanzaH, charlotteH, lameshurH, christianstedH, limeTreeH, buffaloH];
const seriesLabels = ['Obs', 'RUN30g_HJ_manual_new', 'RUN30h_HJ_manual_new'];

const xTicks = [1, 2, 3, 4, 5, 6, 7, 8, 9, 10, 11, 12];
const xRange = [1, 12.99];
const yTicks = [
  [-0.10, -0.05, 0, 0.05, 0.10],
  [-0.10, -0.05, 0, 0.05, 0.10, 0.15],
  [-0.10, -0.05, 0, 0.05, 0.10],
  [-0.10, -0.05, 0, 0.05, 0.10],
  [-0.10, -0.05, 0, 0.05, 0.10],
  [-0.20, -0.15, -0.10, -0.05, 0, 0.05, 0.10, 0.15],
  [-0.15, -0.10, -0.05, 0, 0.05, 0.10, 0.15],
  [-0.3, -0.2, -0.1, 0, 0.1, 0.2, 0.3, 0.4]
];
const yRanges = [[-0.126, 0.1475], [-0.140, 0.189], [-0.1124, 0.144], [-0.1254, 0.1327], [-0.1139, 0.1489], [-0.220, 0.1847], [-0.1842, 0.1742], [-0.358, 0.4685]];
const yDecimals = [2, 2, 2, 2, 2, 2, 2, 1];

// ---- layout, in figure pixels (7650 x 5850) ----
const figW = 7650, figH = 5850;
const panelLeft = [0, 3835];
const panelWidth = [3835, 3773];
const yAxisWidth = [260, 198];
const axesTop = [112, 1287, 2462, 3637];
const axesHeight = 992;
const titleBand = 71;
const xAxisBand = 90;

// the window may be smaller than the figure: fit the figure to it
const figure = document.getElementById('figure');
const sx = Math.min(1, window.innerWidth / figW), sy = Math.min(1, window.innerHeight / figH);
figure.style.transform = 'scale(' + sx + ',' + sy + ')';

Chart.defaults.font.family = '"DejaVu Sans"';
Chart.defaults.color = '#000';

const toXY = pairs => pairs.map(p => ({x: p[0], y: p[1]}));
const fmt = (v, d) => v.toFixed(d).replace('-', '\u2212');

// black frame around each axes box
const framePlugin = {
  id: 'frame',
  afterDatasetsDraw(chart) {
    const {ctx, chartArea: a} = chart;
    ctx.save();
    ctx.strokeStyle = '#000';
    ctx.lineWidth = 3.3;
    ctx.strokeRect(a.left, a.top, a.right - a.left, a.bottom - a.top);
    ctx.restore();
  }
};

// legend drawn inside the axes, upper right
const boxLegend = {
  id: 'boxLegend',
  afterDraw(chart, args, opts) {
    if (!opts.show) return;
    const {ctx, chartArea: a} = chart;
    const fs = 33.3;
    const items = seriesLabels.map(l => chart.data.datasets.find(d => d.label === l));
    ctx.save();
    ctx.font = fs + 'px "DejaVu Sans"';
    const textW = Math.max(...items.map(d => ctx.measureText(d.label).width));
    const pad = 0.4 * fs, hl = 2 * fs, gap = 0.8 * fs, sp = 0.5 * fs;
    const w = 2 * pad + hl + gap + textW;
    const h = 2 * pad + 3 * fs + 2 * sp;
    const x0 = a.right - 0.5 * fs - w;
    const y0 = a.top + 0.5 * fs;
    ctx.beginPath();
    ctx.roundRect(x0, y0, w, h, 10);
    ctx.fillStyle = 'rgba(255,255,255,0.8)';
    ctx.fill();
    ctx.strokeStyle = '#cccccc';
    ctx.lineWidth = 3;
    ctx.stroke();
    items.forEach((d, k) => {
      const cy = y0 + pad + fs / 2 + k * (fs + sp);
      if (d.label === 'Obs') {
        ctx.beginPath();
        ctx.arc(x0 + pad + hl / 2, cy, 7, 0, Math.PI * 2);
        ctx.fillStyle = d.borderColor;
        ctx.fill();
      } else {
        ctx.beginPath();
        ctx.setLineDash(d.borderDash || []);
        ctx.strokeStyle = d.borderColor;
        ctx.lineWidth = d.borderWidth;
        ctx.moveTo(x0 + pad, cy);
        ctx.lineTo(x0 + pad + hl, cy);
        ctx.stroke();
        ctx.setLineDash([]);
      }
      ctx.fillStyle = '#000';
      ctx.textAlign = 'left';
      ctx.textBaseline = 'middle';
      ctx.fillText(d.label, x0 + pad + hl + gap, cy);
    });
    ctx.restore();
  }
};

stationTitles.forEach((title, i) => {
  const col = i % 2, row = Math.floor(i / 2);
  const div = document.createElement('div');
  div.className = 'panel';
  div.style.left = panelLeft[col] + 'px';
  div.style.top = (axesTop[row] - titleBand) + 'px';
  div.style.width = panelWidth[col] + 'px';
  div.style.height = (titleBand + axesHeight + xAxisBand) + 'px';
  const canvas = document.createElement('canvas');
  div.appendChild(canvas);
  figure.appendChild(div);

  const datasets = [];
  if (obsSeries[i].length) {
    datasets.push({label: seriesLabels[0], data: toXY(obsSeries[i]), borderColor: '#ff0000', backgroundColor: '#ff0000',
      borderWidth: 14, borderCapStyle: 'round', borderJoinStyle: 'round', order: 2});
  }
  datasets.push({label: seriesLabels[1], data: toXY(runGSeries[i]), borderColor: '#0000ff', backgroundColor: '#0000ff',
    borderWidth: 5, order: 1});
  datasets.push({label: seriesLabels[2], data: toXY(runHSeries[i]), borderColor: '#008000', backgroundColor: '#008000',
    borderWidth: 5, borderDash: [19, 8], order: 0});

  new Chart(canvas, {
    type: 'line',
    data: {datasets},
    plugins: [framePlugin, boxLegend],
    options: {
      responsive: true,
      maintainAspectRatio: false,
      animation: false,
      devicePixelRatio: 1,
      layout: {padding: {right: 5}},
      elements: {point: {radius: 0}, line: {cubicInterpolationMode: 'monotone', fill: false}},
      plugins: {
        legend: {display: false},
        tooltip: {enabled: false},
        title: {display: true, text: title, color: '#000', font: {size: 50, weight: 'normal'}, padding: {top: 0, bottom: 11}},
        boxLegend: {show: i === 0}
      },
      scales: {
        x: {
          type: 'linear', min: xRange[0], max: xRange[1],
          afterBuildTicks: s => { s.ticks = xTicks.map(v => ({value: v})); },
          afterFit: s => { s.height = xAxisBand; },
          ticks: {font: {size: 41.7}, color: '#000', padding: 5, maxRotation: 0, autoSkip: false, callback: v => String(v)},
          grid: {color: '#e6e6e6', lineWidth: 3, tickColor: '#000', tickLength: 15, tickWidth: 3.3},
          border: {display: false}
        },
        y: {
          type: 'linear', min: yRanges[i][0], max: yRanges[i][1],
          afterBuildTicks: s => { s.ticks = yTicks[i].map(v => ({value: v})); },
          afterFit: s => { s.width = yAxisWidth[col]; },
          ticks: {font: {size: 41.7}, color: '#000', padding: 14, autoSkip: false, callback: v => fmt(v, yDecimals[i])},
          grid: {color: '#e6e6e6', lineWidth: 3, tickColor: '#000', tickLength: 15, tickWidth: 3.3},
          border: {display: false},
          title: {display: col === 0, text: 'Elevation (m)', color: '#000', font: {size: 41.7}, padding: {top: 30, bottom: 0}}
        }
      }
    }
  });
});
</script>
</body>
</html>
